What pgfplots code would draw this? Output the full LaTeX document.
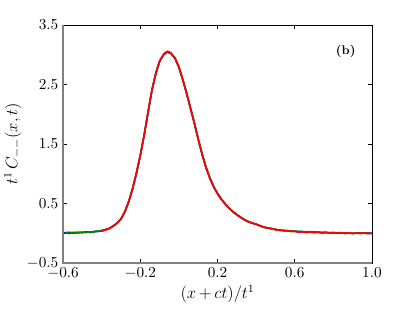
\documentclass[border=0pt]{standalone}
\usepackage{pgfplots}
\pgfplotsset{compat=1.18}
\pgfplotstableread{
x y
-0.600 0.005
-0.590 0.000
-0.580 0.010
-0.570 -0.005
-0.560 0.008
-0.550 0.002
-0.540 0.012
-0.530 0.004
-0.520 0.010
-0.500 0.012
-0.480 0.018
-0.460 0.015
-0.440 0.025
-0.420 0.030
-0.400 0.040
-0.380 0.060
-0.360 0.080
-0.340 0.120
-0.320 0.170
-0.300 0.240
-0.280 0.360
-0.260 0.530
-0.240 0.750
-0.220 1.010
-0.200 1.310
-0.180 1.650
-0.160 2.030
-0.140 2.400
-0.120 2.680
-0.100 2.890
-0.080 3.000
-0.060 3.050
-0.050 3.040
-0.040 3.020
-0.020 2.940
0.000 2.790
0.020 2.580
0.040 2.350
0.060 2.100
0.080 1.850
0.100 1.580
0.120 1.330
0.140 1.110
0.160 0.930
0.180 0.780
0.200 0.665
0.220 0.570
0.240 0.490
0.260 0.420
0.280 0.360
0.300 0.310
0.320 0.265
0.340 0.225
0.360 0.192
0.380 0.170
0.400 0.150
0.440 0.100
0.480 0.075
0.520 0.050
0.560 0.040
0.600 0.030
0.650 0.020
0.700 0.015
0.750 0.010
0.800 0.005
0.850 0.000
0.900 -0.005
0.950 0.000
1.000 -0.005
}\blueT
\pgfplotstableread{
x y
-0.590 0.010
-0.580 0.000
-0.570 0.015
-0.560 0.005
-0.550 0.012
-0.540 0.000
-0.530 0.014
-0.520 0.006
-0.510 0.016
-0.500 0.008
-0.490 0.018
-0.480 0.010
-0.470 0.020
-0.460 0.012
-0.450 0.024
-0.440 0.020
-0.430 0.032
-0.420 0.028
-0.410 0.040
-0.400 0.040
-0.380 0.060
-0.360 0.080
-0.340 0.120
-0.320 0.170
-0.300 0.240
-0.280 0.360
-0.260 0.530
-0.240 0.750
-0.220 1.010
-0.200 1.310
-0.180 1.650
-0.160 2.030
-0.140 2.400
-0.120 2.680
-0.100 2.890
-0.080 3.000
-0.060 3.050
-0.050 3.040
-0.040 3.020
-0.020 2.940
0.000 2.790
0.020 2.580
0.040 2.350
0.060 2.100
0.080 1.850
0.100 1.580
0.120 1.330
0.140 1.110
0.160 0.930
0.180 0.780
0.200 0.665
0.220 0.570
0.240 0.490
0.260 0.420
0.280 0.360
0.300 0.310
0.320 0.265
0.340 0.225
0.360 0.192
0.380 0.170
0.400 0.150
0.440 0.100
0.480 0.075
0.520 0.050
0.560 0.040
0.600 0.030
0.650 0.025
0.700 0.020
0.750 0.010
0.800 0.008
0.850 0.004
0.900 0.000
0.950 0.002
1.000 -0.002
}\greenT
\pgfplotstableread{
x y
-0.400 0.030
-0.390 0.045
-0.380 0.050
-0.370 0.072
-0.360 0.078
-0.350 0.100
-0.340 0.118
-0.330 0.145
-0.320 0.168
-0.310 0.205
-0.300 0.240
-0.290 0.300
-0.280 0.360
-0.270 0.445
-0.260 0.530
-0.250 0.635
-0.240 0.750
-0.230 0.880
-0.220 1.010
-0.210 1.160
-0.200 1.310
-0.190 1.480
-0.180 1.650
-0.170 1.840
-0.160 2.030
-0.150 2.220
-0.140 2.400
-0.130 2.550
-0.120 2.680
-0.110 2.800
-0.100 2.890
-0.090 2.955
-0.080 3.000
-0.070 3.040
-0.060 3.055
-0.055 3.035
-0.050 3.050
-0.040 3.020
-0.030 2.985
-0.020 2.940
-0.010 2.870
0.000 2.790
0.010 2.690
0.020 2.580
0.030 2.470
0.040 2.350
0.050 2.225
0.060 2.100
0.070 1.975
0.080 1.850
0.090 1.715
0.100 1.580
0.110 1.455
0.120 1.330
0.130 1.215
0.140 1.110
0.150 1.015
0.160 0.930
0.170 0.852
0.180 0.780
0.190 0.720
0.200 0.665
0.210 0.615
0.220 0.570
0.230 0.528
0.240 0.490
0.250 0.452
0.260 0.420
0.270 0.388
0.280 0.360
0.290 0.332
0.300 0.310
0.310 0.285
0.320 0.265
0.330 0.242
0.340 0.225
0.350 0.205
0.360 0.194
0.370 0.175
0.380 0.172
0.390 0.155
0.400 0.150
0.420 0.122
0.440 0.102
0.460 0.085
0.480 0.078
0.500 0.058
0.520 0.052
0.540 0.040
0.560 0.042
0.580 0.028
0.600 0.032
0.620 0.018
0.640 0.024
0.660 0.010
0.680 0.020
0.700 0.008
0.720 0.016
0.740 0.002
0.760 0.014
0.780 -0.002
0.800 0.010
0.820 -0.004
0.840 0.008
0.860 -0.006
0.880 0.006
0.900 -0.008
0.920 0.004
0.940 -0.006
0.960 0.004
0.980 -0.008
1.000 0.000
}\redT
\begin{document}
\begin{tikzpicture}
\begin{axis}[
  name=ax,
  scale only axis,
  width=222pt, height=171pt,
  xmin=-0.6, xmax=1.0, ymin=-0.5, ymax=3.5,
  xtick={-0.6,-0.2,0.2,0.6,1.0},
  ytick={-0.5,0.5,1.5,2.5,3.5},
  tick align=inside,
  major tick length=3pt,
  tick style={black, line width=0.4pt},
  tick label style={font=\fontsize{10.5}{12}\selectfont},
  xticklabel style={/pgf/number format/.cd, fixed, fixed zerofill, precision=1},
  yticklabel style={/pgf/number format/.cd, fixed, fixed zerofill, precision=1},
  axis line style={black, line width=0.5pt},
  xlabel={\large $(x\,{+}\,ct)/t^{1}$},
  ylabel={\large $t^{1}\,C_{{-}{-}}(x,t)$},
  xlabel style={yshift=2pt},
  ylabel style={yshift=-3pt},
  clip=true,
]
\addplot[blue, line width=1.2pt] table {\blueT};
\addplot[green!50!black, line width=1.2pt] table {\greenT};
\addplot[red, line width=1.2pt] table {\redT};
\node[font=\small\bfseries] at (axis cs:0.865,3.05) {(b)};
\end{axis}
\draw[gray, line width=1.2pt] (ax.north west) -- (ax.south west) -- (ax.south east);
\pgfresetboundingbox
\path ([shift={(-45.4pt,-35.3pt)}]ax.south west) rectangle ([shift={(31pt,18pt)}]ax.north east);
\end{tikzpicture}
\end{document}
